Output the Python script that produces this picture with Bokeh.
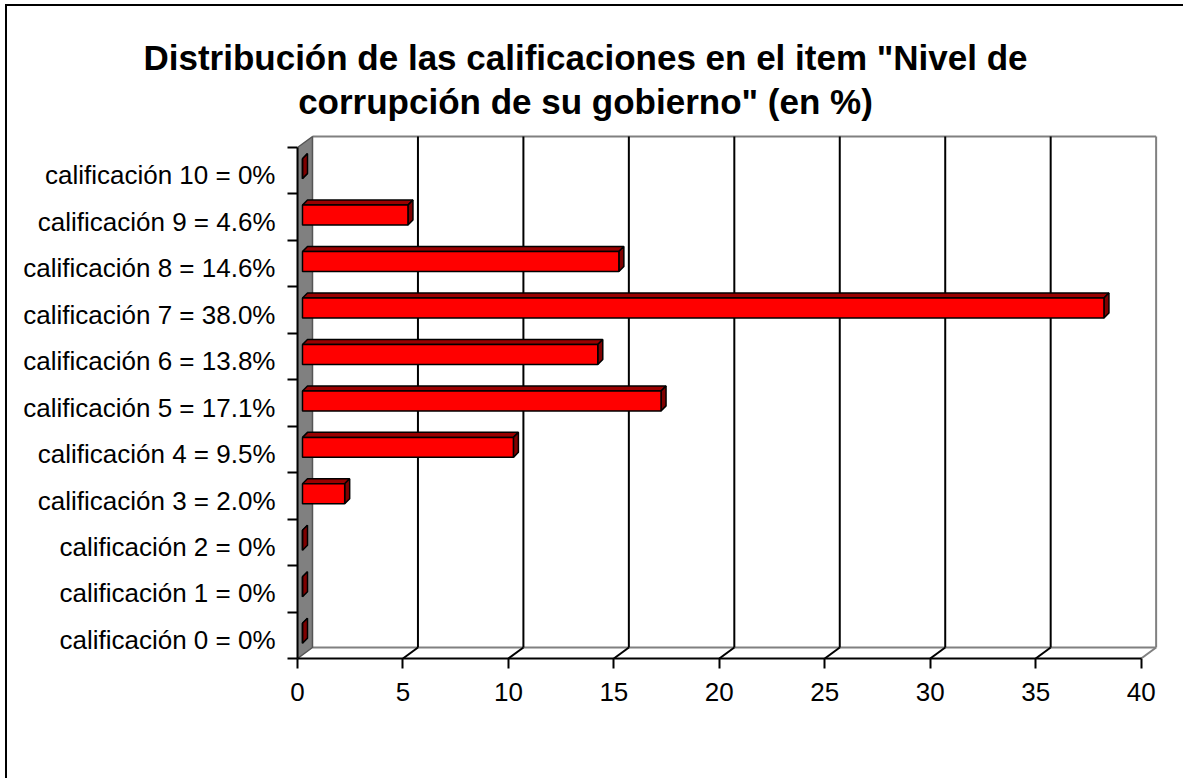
import numpy as np
from bokeh.plotting import figure
from bokeh.models import Range1d, FixedTicker, LinearAxis, Label
from bokeh.embed import file_html
from bokeh.resources import INLINE

# ---- data ----
categories = [
    "calificación 0 = 0%",
    "calificación 1 = 0%",
    "calificación 2 = 0%",
    "calificación 3 = 2.0%",
    "calificación 4 = 9.5%",
    "calificación 5 = 17.1%",
    "calificación 6 = 13.8%",
    "calificación 7 = 38.0%",
    "calificación 8 = 14.6%",
    "calificación 9 = 4.6%",
    "calificación 10 = 0%",
]
bar_values = [0, 0, 0, 2.0, 10.0, 17.0, 14.0, 38.0, 15.0, 5.0, 0]
x_ticks = [0, 5, 10, 15, 20, 25, 30, 35, 40]
title_lines = ['Distribución de las calificaciones en el item "Nivel de',
               'corrupción de su gobierno" (en %)']

FONT = "Liberation Sans"
n = len(categories)
xmax = x_ticks[-1]

# 3D depth vector (data units)
DX, DY = 0.711, 0.237
# bar placement inside depth
BX0 = 0.237
EX, EY = 0.237, 0.108
BAR_LO, BAR_HI = 0.33, 0.76

p = figure(width=1178, height=774,
           x_range=Range1d(0, 41.25), y_range=Range1d(0, 11.28),
           output_backend="svg", toolbar_location=None,
           x_axis_type=None, y_axis_type=None,
           min_border_left=290, min_border_right=18,
           min_border_top=128, min_border_bottom=122)
p.outline_line_color = None
p.background_fill_color = "white"
p.border_fill_color = "white"
p.styles = {"border-top": "2px solid black", "border-left": "2px solid black",
            "margin-left": "5px", "margin-top": "4px"}

# back wall outline edges
p.segment(x0=[DX, xmax + DX, DX], y0=[n + DY, n + DY, DY],
          x1=[xmax + DX, xmax + DX, xmax + DX], y1=[n + DY, DY, DY],
          line_color="#808080", line_width=2)
p.segment(x0=[xmax], y0=[0], x1=[xmax + DX], y1=[DY], line_color="#808080", line_width=2)

# gridlines on back wall + floor
gx = np.array(x_ticks[1:-1], dtype=float)
p.segment(x0=gx + DX, y0=np.full(len(gx), DY), x1=gx + DX, y1=np.full(len(gx), n + DY),
          line_color="black", line_width=2)
p.segment(x0=gx, y0=np.zeros(len(gx)), x1=gx + DX, y1=np.full(len(gx), DY),
          line_color="black", line_width=2)

# left wall
p.patch(x=[0, DX, DX, 0], y=[0, DY, n + DY, n], fill_color="#808080",
        line_color="#555555", line_width=1.5)

# bars
vals = np.array(bar_values, dtype=float)
idx = np.arange(n)
left = np.full(n, BX0)
right = vals + BX0
bottom = idx + BAR_LO
top = idx + BAR_HI

top_xs = [[l, l + EX, r + EX, r] for l, r in zip(left, right)]
top_ys = [[t, t + EY, t + EY, t] for t in top]
side_xs = [[r, r + EX, r + EX, r] for r in right]
side_ys = [[b, b + EY, t + EY, t] for b, t in zip(bottom, top)]

p.patches(xs=top_xs, ys=top_ys, fill_color="#990000", line_color="black", line_width=1.5)
p.patches(xs=side_xs, ys=side_ys, fill_color="#800000", line_color="black", line_width=1.5)
p.quad(left=left, right=right, bottom=bottom, top=top,
       fill_color="#FF0000", line_color="black", line_width=1.5)

# axes
xaxis = LinearAxis(ticker=FixedTicker(ticks=x_ticks), bounds=(0, xmax))
xaxis.axis_line_color = "black"
xaxis.axis_line_width = 2
xaxis.major_tick_line_color = "black"
xaxis.major_tick_line_width = 2
xaxis.major_tick_out = 10
xaxis.major_tick_in = 0
xaxis.minor_tick_line_color = None
xaxis.major_label_text_font = FONT
xaxis.major_label_text_font_size = "26px"
xaxis.major_label_text_color = "black"
xaxis.major_label_standoff = 14
p.add_layout(xaxis, "below")

centers = [i + 0.4 for i in range(n)]
bounds_ticks = [float(i) for i in range(n + 1)]
yaxis = LinearAxis(ticker=FixedTicker(ticks=centers, minor_ticks=bounds_ticks),
                   bounds=(0, n),
                   major_label_overrides={c: lab for c, lab in zip(centers, categories)})
yaxis.axis_line_color = "black"
yaxis.axis_line_width = 2
yaxis.major_tick_line_color = None
yaxis.major_tick_out = 0
yaxis.major_tick_in = 0
yaxis.minor_tick_line_color = "black"
yaxis.minor_tick_line_width = 2
yaxis.minor_tick_out = 10
yaxis.minor_tick_in = 0
yaxis.major_label_text_font = FONT
yaxis.major_label_text_font_size = "26px"
yaxis.major_label_text_color = "black"
yaxis.major_label_standoff = 12
p.add_layout(yaxis, "left")

# title: one two-line centred label placed in the top side panel (not clipped)
p.add_layout(Label(x=288, y=55, x_units="screen", y_units="screen",
                   text="\n".join(title_lines),
                   text_font=FONT, text_font_style="bold",
                   text_font_size="35px", text_align="center",
                   text_baseline="middle", text_line_height=1.11,
                   text_color="black"), "above")

open("out.html", "w").write(file_html(p, INLINE))
